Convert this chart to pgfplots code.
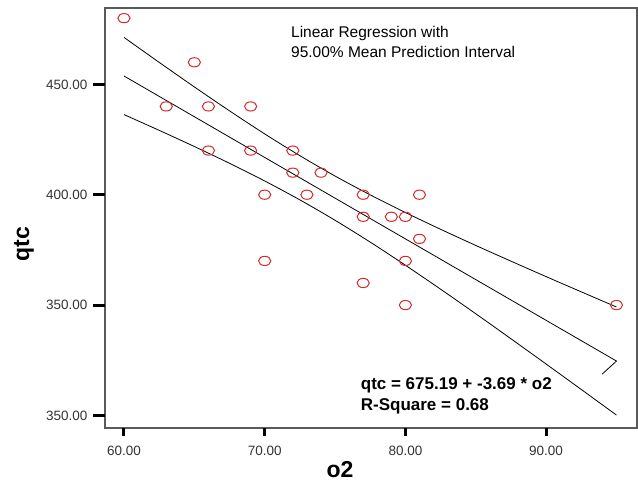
\documentclass[border=0pt]{standalone}
\usepackage{pgfplots}
\pgfplotsset{compat=1.18}
\usepackage{fontspec}
\setmainfont{Liberation Sans}
\definecolor{framegray}{HTML}{5A5A5A}
\definecolor{ticktext}{HTML}{333333}
\definecolor{ptred}{HTML}{D42A2A}
\begin{document}
\begin{tikzpicture}
\path[use as bounding box] (-105bp,-56bp) rectangle (533bp,428bp);
\begin{axis}[
  at={(0,0)}, anchor=south west,
  scale only axis, width=532bp, height=420bp,
  xmin=58.65, xmax=96.46, ymin=294.3, ymax=484.6,
  axis line style={draw=framegray, line width=1.1bp},
  xtick={60,70,80,90}, xticklabels={60.00,70.00,80.00,90.00},
  ytick={300,350,400,450}, yticklabels={350.00,350.00,400.00,450.00},
  tick align=outside, major tick length=12bp,
  xtick style={/pgfplots/major tick length=7bp, line width=3bp, black},
  ytick style={line width=3bp, black},
  xtick pos=bottom, ytick pos=left,
  tick label style={font=\fontsize{13.5bp}{15bp}\selectfont, text=ticktext},
  /pgf/number format/assume math mode=true,
  yticklabel style={xshift=-2bp},
  xticklabel style={yshift=-3bp},
  xlabel={o2}, ylabel={qtc},
  xlabel style={font=\bfseries\fontsize{23bp}{26bp}\selectfont, at={(axis description cs:0.4417,-0.1)}, anchor=center},
  ylabel style={font=\bfseries\fontsize{23bp}{26bp}\selectfont, at={(axis description cs:-0.1523,0.438)}, anchor=center, rotate=0},
  clip=false,
]
% heavy tick bars (axis decoration)
\pgfplotsinvokeforeach{60,70,80,90}{\draw[black, line width=3bp] (axis cs:#1,294.3) -- ([yshift=-7.5bp]axis cs:#1,294.3);}
\pgfplotsinvokeforeach{300,350,400,450}{\draw[black, line width=3bp] (axis cs:58.65,#1) -- ([xshift=-12bp]axis cs:58.65,#1);}
% confidence band and regression line
\addplot[black, line width=0.8bp, smooth] coordinates {
 (60,471.28) (62.5,459.97) (65,448.84) (67.5,438.00) (70,427.55) (72.5,417.68) (75,408.46) (77.5,399.92)
 (80,391.93) (82.5,384.34) (85,377.02) (87.5,369.90) (90,362.89) (92.5,355.99) (95,349.13)};
\addplot[black, line width=0.8bp] coordinates {
 (60,453.79) (65,435.34) (70,416.89) (75,398.44) (80,379.99) (85,361.54) (90,343.09) (95,324.64) (93.98,318.7)};
\addplot[black, line width=0.8bp, smooth] coordinates {
 (60,436.30) (62.5,429.17) (65,421.84) (67.5,414.24) (70,406.23) (72.5,397.66) (75,388.42) (77.5,378.52)
 (80,368.05) (82.5,357.20) (85,346.06) (87.5,334.74) (90,323.29) (92.5,311.75) (95,300.15)};
% observations
\addplot[only marks, mark=o, mark size=4.6bp, mark options={ptred, line width=1bp, xscale=1.33}] coordinates {
 (60,480) (65,460) (63,440) (66,440) (69,440) (66,420) (69,420) (72,420)
 (72,410) (74,410) (70,400) (73,400) (70,370) (77,400) (81,400) (77,390)
 (79,390) (80,390) (81,380) (80,370) (77,360) (80,350) (95,350)};
\node[anchor=north west, inner sep=0, align=left, font=\fontsize{15.5bp}{20bp}\selectfont] at (axis description cs:0.3496,0.957) {Linear Regression with\\95.00\% Mean Prediction Interval};
\node[anchor=north west, inner sep=0, align=left, font=\bfseries\fontsize{17bp}{21bp}\selectfont] at (axis description cs:0.4806,0.121) {qtc = 675.19 + -3.69 * o2\\R-Square = 0.68};
\end{axis}
\end{tikzpicture}
\end{document}
